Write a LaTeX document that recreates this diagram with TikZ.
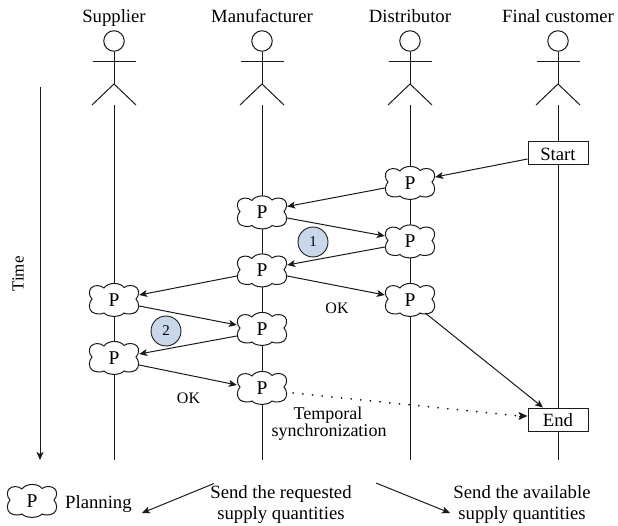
\documentclass[tikz,border=0pt]{standalone}
\usepackage{fontspec}
\setmainfont{Liberation Serif}
\usetikzlibrary{arrows.meta}
\definecolor{ln}{HTML}{1A1A1A}
\definecolor{badge}{HTML}{C9D7EA}
\newcommand{\fs}[1]{\fontsize{#1}{#1}\selectfont}
\tikzset{
  line/.style={draw=ln,line width=1pt},
  msg/.style={line,-{Stealth[length=8pt,width=7pt,inset=2pt]}},
  sync/.style={draw=ln,line width=2pt,dash pattern=on 0.01pt off 9.7pt,line cap=round},
  synctip/.style={-{Stealth[length=9pt,width=8pt,inset=2pt]}},
  lbl/.style={inner sep=0pt,anchor=base,font=\fs{18.7}},
  small/.style={inner sep=0pt,anchor=base,font=\fs{16}},
  cloudbox/.style={minimum width=50pt,minimum height=33pt,inner sep=0pt,font=\fs{19.5}},
  box/.style={draw=ln,line width=1pt,fill=white,minimum width=60pt,minimum height=23pt,inner sep=0pt},
  num/.style={circle,draw=ln,line width=0.9pt,fill=badge,minimum size=30pt,inner sep=0pt,font=\fs{15}}
}
\newcommand{\pcloud}[3]{%
  \draw[line,fill=white,shift={(#2,#3)}] (-10,-12) .. controls (-6,-18) and (6,-18) .. (10,-12.5)
   .. controls (14,-15.5) and (20,-15) .. (23,-12)
   .. controls (25.5,-9) and (25,-4) .. (22,-1)
   .. controls (25.5,3) and (25.5,9) .. (22,12)
   .. controls (18,14.5) and (13,14.5) .. (10,13)
   .. controls (6,17.5) and (-6,17.5) .. (-10,13)
   .. controls (-13,14.5) and (-18,14.5) .. (-22,12)
   .. controls (-25.5,9) and (-25.5,3) .. (-22,-1)
   .. controls (-25,-4) and (-25.5,-9) .. (-23,-12)
   .. controls (-20,-15) and (-14,-15.5) .. (-10,-12) -- cycle;
  \node[cloudbox] (#1) at (#2,#3) {P};}
\newcommand{\actor}[3]{%
  \node[lbl] (#1-label) at (#2,22.5) {#3};
  \node[circle,draw=ln,line width=1pt,minimum size=20.5pt,inner sep=0pt] (#1-head) at (#2,41) {};
  \coordinate (#1-hip) at (#2,84);
  \coordinate (#1-feet) at (#2,105);
  \coordinate (#1-end) at (#2,460);
  \draw[line] (#1-head.south) -- (#1-hip);
  \draw[line] (#2-21.5,62) -- (#2+21.5,62);
  \draw[line] (#2-22,105) -- (#1-hip) -- (#2+22,105);
  \draw[line] (#1-feet) -- (#1-end);}
\begin{document}
\begin{tikzpicture}[x=1pt,y=-1pt]
\useasboundingbox (0,0) rectangle (618,526);
\actor{sup}{114}{Supplier}
\actor{man}{262}{Manufacturer}
\actor{dis}{410}{Distributor}
\actor{cus}{558}{Final customer}
% time
\coordinate (t0) at (40,87);
\coordinate (t1) at (40,460);
\draw[msg] (t0) -- (t1);
\node[inner sep=0pt,rotate=90,font=\fs{17}] (time) at (18,274) {Time};
% clouds
\pcloud{d1}{410}{183}
\pcloud{m1}{262}{212.5}
\pcloud{d2}{410}{241.5}
\pcloud{m2}{262}{270.5}
\pcloud{d3}{410}{300}
\pcloud{s1}{114}{300}
\pcloud{m3}{262}{329}
\pcloud{s2}{114}{358}
\pcloud{m4}{262}{388}
\node[box] (start) at (558,153.5) {};
\node[box] (end) at (558,419.5) {};
\node[lbl] (starttext) at (558,160.5) {Start};
\node[lbl] (endtext) at (558,426.5) {End};
% messages
\draw[msg] ([yshift=-5.5pt]start.west) -- ([yshift=6pt]d1.east);
\draw[msg] ([yshift=-5pt]d1.west) -- ([yshift=6pt]m1.east);
\draw[msg] ([yshift=-5.5pt]m1.east) -- ([yshift=5.5pt]d2.west);
\draw[msg] ([yshift=-5.5pt]d2.west) -- ([yshift=5.5pt]m2.east);
\draw[msg] ([yshift=-5.5pt]m2.east) -- ([yshift=5pt]d3.west);
\draw[msg] ([yshift=-5.5pt]m2.west) -- ([yshift=5pt]s1.east);
\draw[msg] ([yshift=-6pt]s1.east) -- ([yshift=4pt]m3.west);
\draw[msg] ([yshift=-7pt]m3.west) -- ([yshift=4pt]s2.east);
\draw[msg] ([yshift=-7pt]s2.east) -- ([yshift=3pt]m4.west);
\draw[msg] ([shift={(-10pt,-13pt)}]d3.east) -- ([xshift=-15pt]end.north);
\draw[sync] ([shift={(6pt,-5pt)}]m4.east) -- ([xshift=-8pt,yshift=3.5pt]end.west);
\draw[line,synctip] ([xshift=-9pt,yshift=3.5pt]end.west) -- ([yshift=3.5pt]end.west);
% labels
\node[num] (one) at (313,242) {1};
\node[num] (two) at (166,331) {2};
\node[small] (ok1) at (337,314) {OK};
\node[small] (ok2) at (188.5,403) {OK};
\node[lbl,font=\fs{18}] (temporal) at (328,419) {Temporal};
\node[lbl,font=\fs{18}] (sync) at (329,436.5) {synchronization};
% legend
\pcloud{leg}{32}{501}
\node[lbl,anchor=base west] (planning) at (65,508) {Planning};
\node[lbl] (req) at (281,498) {Send the requested};
\node[lbl] (reqb) at (281,519) {supply quantities};
\node[lbl] (ava) at (522,498) {Send the available};
\node[lbl] (avab) at (522,519) {supply quantities};
\coordinate (a1) at (214,483.5);
\coordinate (a2) at (142,513);
\coordinate (b1) at (376,483);
\coordinate (b2) at (450,513);
\draw[msg] (a1) -- (a2);
\draw[msg] (b1) -- (b2);
\end{tikzpicture}
\end{document}
